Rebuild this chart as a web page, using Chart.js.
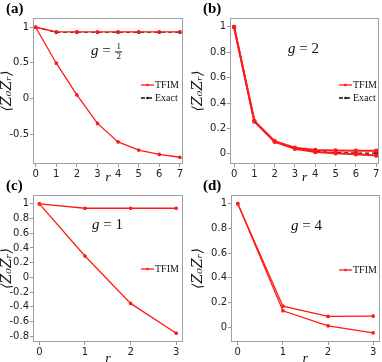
<!DOCTYPE html>
<html>
<head>
<meta charset="utf-8">
<script src="https://cdn.jsdelivr.net/npm/chart.js@4.4.1/dist/chart.umd.min.js"></script>
<style>
  body { margin: 0; background: #fff; }
  #wrap { position: relative; width: 382px; height: 362px; overflow: hidden; }
  .panel { position: absolute; width: 191px; height: 181px; }
  .lbl { position: absolute; font: bold 15px "Liberation Serif", serif; transform: translateY(-50%); color: #000; }
  .ann { position: absolute; font: 15px "Liberation Serif", serif; transform: translateY(-50%); color: #111; white-space: nowrap; }
  .ann i { font-style: italic; }
  .frac { display: inline-block; vertical-align: middle; text-align: center; font-size: 9px; line-height: 9px; margin-left: 1px; }
  .frac span { display: block; }
  .frac .num { border-bottom: 1px solid #111; padding: 0 1px; }
</style>
</head>
<body>
<div id="wrap">
  <div class="panel" style="left:0;top:0"><canvas id="ca" width="191" height="181"></canvas></div>
  <div class="panel" style="left:191px;top:0"><canvas id="cb" width="191" height="181"></canvas></div>
  <div class="panel" style="left:0;top:181px"><canvas id="cc" width="191" height="181"></canvas></div>
  <div class="panel" style="left:191px;top:181px"><canvas id="cd" width="191" height="181"></canvas></div>

  <div class="lbl" style="left:6px;top:8px">(a)</div>
  <div class="lbl" style="left:203px;top:8px">(b)</div>
  <div class="lbl" style="left:6px;top:185px">(c)</div>
  <div class="lbl" style="left:203px;top:185px">(d)</div>

  <div class="ann" style="left:91px;top:52px"><i>g</i> = <span class="frac"><span class="num">1</span><span>2</span></span></div>
  <div class="ann" style="left:288px;top:48px"><i>g</i> = 2</div>
  <div class="ann" style="left:92px;top:224px"><i>g</i> = 1</div>
  <div class="ann" style="left:291px;top:225px"><i>g</i> = 4</div>
</div>
<script>
// r values
const rLong = [0, 1, 2, 3, 4, 5, 6, 7];
const rShort = [0, 1, 2, 3];

// (a) g = 1/2
const tfimA1 = [1, 0.935, 0.935, 0.935, 0.935, 0.935, 0.935, 0.935];
const tfimA2 = [1, 0.495, 0.05, -0.35, -0.61, -0.725, -0.785, -0.825];
const exactA = [1, 0.93, 0.93, 0.93, 0.93, 0.93, 0.93, 0.93];

// (b) g = 2
const tfimB1 = [1, 0.26, 0.10, 0.048, 0.03, 0.026, 0.025, 0.025];
const tfimB2 = [1, 0.255, 0.095, 0.04, 0.015, 0.004, -0.004, -0.013];
const exactB = [1, 0.258, 0.097, 0.043, 0.02, 0.01, 0.006, 0.005];

// (c) g = 1
const tfimC1 = [1, 0.94, 0.94, 0.94];
const tfimC2 = [1, 0.29, -0.355, -0.76];

// (d) g = 4
const tfimD1 = [1, 0.17, 0.087, 0.09];
const tfimD2 = [1, 0.133, 0.011, -0.046];

// tick labels
const yTicksA = [-0.5, 0, 0.5, 1];
const yTicksB = [0, 0.2, 0.4, 0.6, 0.8, 1];
const yTicksC = [-0.8, -0.6, -0.4, -0.2, 0, 0.2, 0.4, 0.6, 0.8, 1];
const yTicksD = [0, 0.2, 0.4, 0.6, 0.8, 1];

const RED = '#ff1a1a';

const pts = (xs, ys) => xs.map((x, i) => ({ x: x, y: ys[i] }));

function tfim(xs, ys, showLegend, w) {
  return {
    label: 'TFIM', data: pts(xs, ys), borderColor: RED, backgroundColor: RED,
    borderWidth: w || 1.3, pointRadius: 1.2, pointHoverRadius: 1.2, legend: showLegend
  };
}
function exact(xs, ys) {
  return {
    label: 'Exact', data: pts(xs, ys), borderColor: '#111', backgroundColor: '#111',
    borderWidth: 1.2, borderDash: [4, 3], pointRadius: 1.2, pointHoverRadius: 1.2, legend: true
  };
}

// frame + inside legend
const framePlugin = {
  id: 'frame',
  afterDraw(chart, args, opts) {
    const { ctx, chartArea: a } = chart;
    ctx.save();
    ctx.strokeStyle = '#a0a0a0';
    ctx.lineWidth = 1;
    ctx.strokeRect(Math.round(a.left) + 0.5, Math.round(a.top) + 0.5,
      Math.round(a.right - a.left) - 1, Math.round(a.bottom - a.top) - 1);
    // legend
    const lg = opts.legend;
    if (lg) {
      const items = chart.data.datasets.filter(d => d.legend);
      items.forEach((d, i) => {
        const y = lg.y + i * 13;
        ctx.strokeStyle = d.borderColor;
        ctx.lineWidth = 1.3;
        ctx.setLineDash(d.borderDash || []);
        ctx.beginPath();
        ctx.moveTo(lg.x, y); ctx.lineTo(lg.x + 13, y); ctx.stroke();
        ctx.setLineDash([]);
        ctx.fillStyle = d.borderColor;
        ctx.beginPath(); ctx.arc(lg.x + 6.5, y, 1.3, 0, Math.PI * 2); ctx.fill();
        ctx.fillStyle = '#111';
        ctx.font = '10px "Liberation Serif", serif';
        ctx.textBaseline = 'middle';
        ctx.fillText(d.label, lg.x + 14, y + 0.5);
      });
    }
    ctx.restore();
  }
};

function makeChart(id, p) {
  new Chart(document.getElementById(id), {
    type: 'line',
    data: { datasets: p.datasets },
    plugins: [framePlugin],
    options: {
      responsive: false,
      animation: false,
      devicePixelRatio: 1,
      layout: { padding: { top: p.top, right: p.right, left: 0, bottom: 0 } },
      plugins: {
        legend: { display: false },
        tooltip: { enabled: false },
        frame: { legend: p.legend }
      },
      scales: {
        x: {
          type: 'linear', min: p.xMin, max: p.xMax,
          afterBuildTicks: s => { s.ticks = p.xTicks.map(v => ({ value: v })); },
          afterFit: s => { s.height = p.bottom; },
          grid: { drawOnChartArea: false, tickLength: 3, color: '#999' },
          border: { display: false },
          ticks: { padding: 1, color: '#222', font: { family: 'DejaVu Sans', size: 10 }, maxRotation: 0 },
          title: { display: true, text: 'r', color: '#111', padding: { top: 0, bottom: -3 },
            font: { family: 'Liberation Serif', style: 'italic', size: 14, lineHeight: 0.8 } }
        },
        y: {
          type: 'linear', min: p.yMin, max: p.yMax,
          afterBuildTicks: s => { s.ticks = p.yTicks.map(v => ({ value: v })); },
          afterFit: s => { s.width = p.left; },
          grid: { drawOnChartArea: false, tickLength: 3, color: '#999' },
          border: { display: false },
          ticks: { padding: 1, color: '#222', font: { family: 'DejaVu Sans', size: 10 },
            callback: v => String(Math.round(v * 10) / 10) },
          title: { display: true, text: '\u27E8Z\u2080Z\u1D63\u27E9', color: '#111', padding: { top: 0, bottom: 0 },
            font: { family: 'DejaVu Serif', style: 'italic', size: 14, lineHeight: 1.1 } }
        }
      }
    }
  });
}

makeChart('ca', {
  top: 18, right: 8, left: 33, bottom: 17,
  xMin: -0.13, xMax: 7.15, yMin: -0.92, yMax: 1.13,
  xTicks: rLong, yTicks: yTicksA, legend: { x: 141, y: 85 },
  datasets: [tfim(rLong, tfimA1, true), tfim(rLong, tfimA2, false), exact(rLong, exactA)]
});
makeChart('cb', {
  top: 18, right: 1, left: 39, bottom: 17,
  xMin: -0.2, xMax: 7.13, yMin: -0.08, yMax: 1.07,
  xTicks: rLong, yTicks: yTicksB, legend: { x: 148, y: 85 },
  datasets: [tfim(rLong, tfimB1, true, 2), tfim(rLong, tfimB2, false, 2), exact(rLong, exactB)]
});
makeChart('cc', {
  top: 14, right: 8, left: 33, bottom: 20,
  xMin: -0.14, xMax: 3.15, yMin: -0.88, yMax: 1.12,
  xTicks: rShort, yTicks: yTicksC, legend: { x: 141, y: 88 },
  datasets: [tfim(rShort, tfimC1, true), tfim(rShort, tfimC2, false)]
});
makeChart('cd', {
  top: 14, right: 1, left: 40, bottom: 20,
  xMin: -0.15, xMax: 3.14, yMin: -0.12, yMax: 1.07,
  xTicks: rShort, yTicks: yTicksD, legend: { x: 148, y: 89 },
  datasets: [tfim(rShort, tfimD1, true), tfim(rShort, tfimD2, false)]
});
</script>
</body>
</html>
